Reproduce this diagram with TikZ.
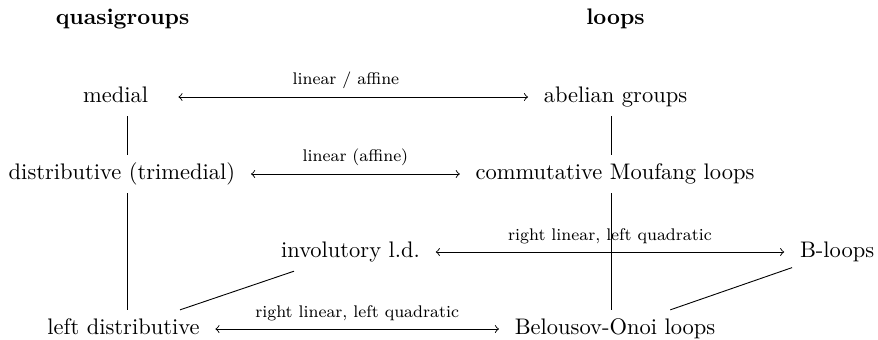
\documentclass[tikz,border=0pt]{standalone}
\usepackage{tikz}
\usetikzlibrary{calc}
\tikzset{
  obj/.style={text height=7.5pt, text depth=2.5pt, inner sep=3.33pt},
  head/.style={anchor=base, font=\bfseries},
  link/.style={<->, shorten >=3.5pt, shorten <=3.5pt},
  lab/.style={above, font=\fontsize{7.5}{9}\selectfont}
}

\begin{document}
\begin{tikzpicture}
\useasboundingbox (0,0) rectangle (13.719,-5.3125);
\node[head] (quasi) at (1.914,-0.39) {quasigroups};
\node[head] (loops) at (9.617,-0.39) {loops};
\node[obj] (medial) at (1.805,-1.516) {medial};
\node[obj] (abelian) at (9.617,-1.516) {abelian groups};
\node[obj] (trimedial) at (1.906,-2.719) {distributive (trimedial)};
\node[obj] (moufang) at (9.61,-2.719) {commutative Moufang loops};
\node[obj] (involutory) at (5.477,-3.9375) {involutory l.d.};
\node[obj] (bloops) at (13.08,-3.9375) {B-loops};
\node[obj] (leftdist) at (1.93,-5.141) {left distributive};
\node[obj] (belousov) at (9.61,-5.141) {Belousov-Onoi loops};
\coordinate (lcol) at (1.984,0);
\coordinate (rcol) at (9.547,0);

\draw (medial.south -| lcol) -- (trimedial.north -| lcol);
\draw (trimedial.south -| lcol) -- (leftdist.north -| lcol);
\draw (abelian.south -| rcol) -- (moufang.north -| rcol);
\draw (moufang.south -| rcol) -- (belousov.north -| rcol);
\draw (leftdist) -- (involutory);
\draw (belousov) -- (bloops);

\draw[link, shorten <=10pt] (medial) -- node[lab] {linear / affine} (abelian);
\draw[link] (trimedial) -- node[lab] {linear (affine)} (moufang);
\draw[link] (involutory) -- node[lab] {right linear, left quadratic} (bloops);
\draw[link] (leftdist) -- node[lab] {right linear, left quadratic} (belousov);
\end{tikzpicture}
\end{document}
